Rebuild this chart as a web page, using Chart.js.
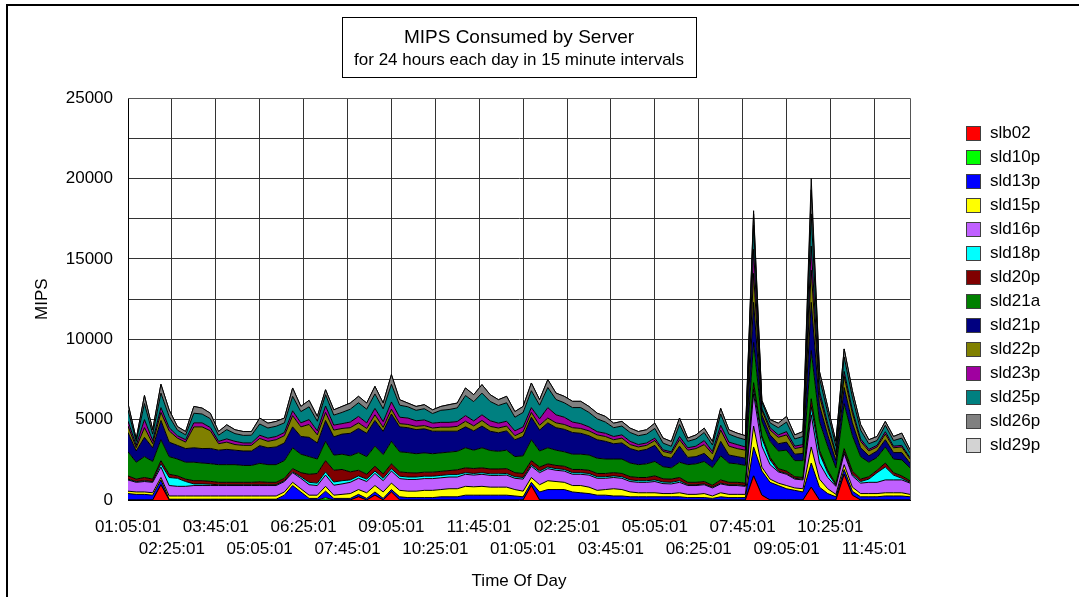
<!DOCTYPE html>
<html>
<head>
<meta charset="utf-8">
<title>MIPS Consumed by Server</title>
<script src="https://cdn.jsdelivr.net/npm/chart.js@4.4.1/dist/chart.umd.min.js"></script>
<style>
  html, body { margin: 0; padding: 0; background: #fff; }
  #wrap { position: relative; width: 1079px; height: 597px; }
  #legend { position: absolute; left: 966px; top: 121px; margin: 0; padding: 0; list-style: none;
            font: 17px 'Liberation Sans', Arial, sans-serif; color: #000; }
  #legend li { height: 24px; display: flex; align-items: center; white-space: nowrap; }
  #legend .box { width: 15px; height: 15px; box-sizing: border-box; border: 1px solid #404040; margin-right: 9px; }
</style>
</head>
<body>
<div id="wrap">
  <canvas id="chart" width="1079" height="597"></canvas>
  <ul id="legend"></ul>
</div>
<script>
// ---------- data ----------
// 96 samples, every 15 minutes, starting at 01:05:01
const INTERVAL = 15;
const minutes = Array.from({ length: 96 }, (_, i) => i * INTERVAL);

const TICK_STEP = 80;
const tickLabels = ['01:05:01', '02:25:01', '03:45:01', '05:05:01', '06:25:01', '07:45:01',
  '09:05:01', '10:25:01', '11:45:01', '01:05:01', '02:25:01', '03:45:01',
  '05:05:01', '06:25:01', '07:45:01', '09:05:01', '10:25:01', '11:45:01'];

const seriesNames = ['slb02', 'sld10p', 'sld13p', 'sld15p', 'sld16p', 'sld18p', 'sld20p',
  'sld21a', 'sld21p', 'sld22p', 'sld23p', 'sld25p', 'sld26p', 'sld29p'];
const seriesColors = ['#ff0000', '#00ff00', '#0000ff', '#ffff00', '#c060ff', '#00ffff', '#800000',
  '#008000', '#000080', '#808000', '#a000a0', '#008080', '#808080', '#d3d3d3'];

const slb02 = [
  0, 0, 0, 0, 950, 0, 0, 0, 0, 0,
  0, 0, 0, 0, 0, 0, 0, 0, 0, 0,
  0, 0, 0, 0, 0, 0, 0, 0, 200, 0,
  300, 0, 500, 0, 0, 0, 0, 0, 0, 0,
  0, 0, 0, 0, 0, 0, 0, 0, 0, 900,
  0, 0, 0, 0, 0, 0, 0, 0, 0, 0,
  0, 0, 0, 0, 0, 0, 0, 0, 0, 0,
  0, 0, 0, 0, 0, 0, 1500, 300, 0, 0,
  0, 0, 0, 800, 0, 0, 0, 1600, 300, 0,
  0, 0, 0, 0, 0, 0];
const sld10p = [
  0, 0, 0, 0, 0, 0, 0, 0, 0, 0,
  0, 0, 0, 0, 0, 0, 0, 0, 0, 0,
  0, 0, 0, 0, 150, 0, 0, 0, 0, 0,
  0, 0, 0, 0, 0, 0, 0, 0, 0, 0,
  0, 0, 0, 0, 0, 0, 0, 0, 0, 0,
  0, 0, 0, 0, 0, 0, 0, 0, 0, 0,
  0, 0, 0, 0, 0, 0, 0, 0, 0, 0,
  0, 0, 0, 0, 0, 0, 0, 0, 0, 0,
  0, 0, 0, 0, 0, 0, 0, 0, 0, 0,
  0, 0, 0, 0, 0, 0];
const sld13p = [
  400, 350, 350, 300, 300, 50, 50, 50, 50, 50,
  50, 50, 50, 50, 50, 50, 50, 50, 50, 300,
  900, 500, 100, 100, 400, 100, 100, 100, 150, 100,
  200, 100, 150, 200, 150, 150, 150, 150, 200, 200,
  200, 300, 300, 300, 300, 300, 300, 250, 200, 200,
  500, 650, 650, 650, 500, 450, 400, 300, 300, 250,
  250, 200, 200, 200, 200, 200, 200, 200, 150, 150,
  150, 100, 200, 150, 150, 150, 1800, 1500, 1100, 900,
  700, 600, 500, 1500, 800, 400, 200, 300, 250, 200,
  200, 200, 250, 250, 250, 200];
const sld15p = [
  150, 150, 150, 150, 150, 200, 200, 200, 200, 200,
  200, 200, 200, 200, 200, 200, 200, 200, 200, 200,
  200, 200, 200, 200, 300, 200, 250, 300, 300, 350,
  400, 400, 400, 400, 400, 400, 450, 450, 450, 500,
  500, 550, 520, 550, 500, 500, 500, 400, 350, 300,
  450, 550, 500, 450, 400, 450, 400, 300, 350, 450,
  400, 300, 250, 250, 250, 200, 200, 250, 200, 200,
  250, 150, 250, 200, 200, 200, 1300, 250, 200, 150,
  200, 150, 200, 1000, 500, 300, 150, 300, 250, 200,
  200, 200, 200, 200, 200, 150];
const sld16p = [
  700, 600, 650, 650, 650, 650, 600, 600, 650, 650,
  650, 650, 650, 650, 650, 650, 650, 650, 650, 650,
  600, 650, 650, 600, 700, 620, 650, 700, 700, 700,
  750, 700, 750, 730, 730, 730, 730, 730, 730, 730,
  730, 750, 730, 750, 730, 730, 750, 700, 750, 700,
  750, 750, 700, 700, 700, 700, 750, 750, 700, 700,
  700, 650, 650, 650, 700, 620, 600, 650, 550, 550,
  550, 500, 550, 550, 550, 500, 2000, 1300, 900, 700,
  700, 550, 550, 2000, 1000, 700, 500, 700, 700, 650,
  700, 700, 800, 800, 800, 700];
const sld18p = [
  50, 50, 50, 50, 200, 500, 500, 300, 100, 100,
  80, 50, 50, 50, 50, 50, 50, 50, 50, 50,
  50, 100, 150, 150, 200, 200, 200, 150, 150, 150,
  150, 150, 150, 150, 150, 150, 150, 150, 150, 150,
  150, 100, 100, 100, 100, 100, 100, 100, 100, 100,
  100, 100, 100, 100, 100, 100, 100, 100, 100, 100,
  100, 100, 100, 100, 100, 100, 100, 100, 50, 50,
  50, 50, 50, 50, 50, 50, 300, 500, 300, 50,
  50, 50, 50, 500, 600, 300, 50, 100, 100, 100,
  200, 600, 800, 300, 100, 50];
const sld20p = [
  200, 150, 200, 150, 200, 200, 150, 150, 200, 200,
  180, 150, 150, 150, 150, 150, 180, 150, 150, 150,
  200, 250, 500, 600, 700, 730, 700, 500, 350, 300,
  300, 270, 300, 270, 270, 250, 250, 250, 250, 250,
  300, 300, 310, 300, 300, 300, 300, 250, 250, 250,
  250, 200, 200, 200, 200, 200, 200, 200, 200, 200,
  200, 200, 200, 200, 250, 200, 200, 200, 150, 150,
  150, 120, 200, 150, 150, 150, 400, 150, 150, 150,
  150, 100, 100, 500, 200, 150, 100, 200, 200, 150,
  150, 150, 250, 150, 150, 100];
const sld21a = [
  1500, 1050, 1300, 1100, 1300, 1100, 1050, 1050, 1150, 1100,
  1100, 1100, 1100, 1100, 1050, 1050, 1150, 1100, 1100, 1100,
  1300, 1150, 1100, 900, 1200, 940, 950, 1000, 1100, 1100,
  1250, 1200, 1400, 1250, 1250, 1200, 1200, 1150, 1150, 1150,
  1150, 1250, 1140, 1250, 1150, 1100, 1150, 1000, 1100, 1300,
  1000, 1000, 950, 900, 950, 950, 950, 950, 900, 850,
  900, 850, 800, 850, 900, 750, 700, 950, 1100, 1150,
  1250, 1100, 1500, 1200, 1150, 1100, 2500, 900, 1000, 1100,
  1300, 1000, 1050, 3000, 1800, 1500, 1000, 2800, 2200, 1400,
  900, 800, 1000, 850, 1000, 800];
const sld21p = [
  1200, 700, 1200, 850, 1200, 900, 850, 850, 900, 900,
  950, 900, 950, 900, 900, 900, 1100, 1050, 1100, 1100,
  1300, 1100, 1200, 1000, 1300, 1140, 1250, 1400, 1500, 1450,
  1600, 1450, 1700, 1550, 1550, 1500, 1500, 1400, 1350, 1300,
  1250, 1300, 1200, 1350, 1200, 1150, 1200, 1050, 1200, 1400,
  1300, 1550, 1400, 1400, 1350, 1300, 1200, 1150, 1100, 950,
  1000, 900, 850, 900, 1000, 650, 600, 1000, 450, 450,
  500, 400, 900, 500, 450, 450, 2500, 400, 400, 450,
  500, 400, 450, 3000, 1000, 700, 450, 1000, 800, 550,
  400, 400, 450, 400, 450, 300];
const sld22p = [
  400, 200, 600, 250, 500, 700, 450, 400, 1300, 1350,
  1100, 400, 450, 350, 350, 350, 450, 400, 450, 450,
  700, 600, 800, 500, 500, 420, 350, 350, 350, 300,
  350, 250, 300, 200, 200, 200, 200, 200, 250, 250,
  300, 350, 310, 350, 300, 300, 300, 250, 300, 300,
  300, 300, 300, 300, 300, 300, 300, 300, 300, 250,
  300, 250, 250, 250, 300, 300, 300, 400, 450, 500,
  550, 450, 700, 550, 500, 500, 1800, 300, 300, 400,
  450, 350, 400, 2000, 600, 500, 350, 700, 600, 400,
  300, 250, 350, 300, 350, 250];
const sld23p = [
  300, 150, 500, 200, 300, 200, 150, 150, 250, 250,
  200, 150, 200, 200, 150, 150, 200, 200, 200, 200,
  300, 250, 300, 250, 400, 310, 300, 350, 400, 350,
  400, 350, 450, 400, 400, 350, 350, 300, 300, 300,
  300, 350, 310, 350, 350, 300, 300, 300, 300, 300,
  400, 650, 500, 450, 350, 300, 250, 200, 200, 200,
  200, 200, 150, 150, 150, 100, 100, 200, 150, 150,
  250, 150, 300, 250, 250, 200, 1500, 100, 150, 150,
  200, 150, 150, 1500, 300, 200, 100, 300, 200, 150,
  100, 100, 150, 100, 100, 80];
const sld25p = [
  700, 250, 1000, 400, 900, 700, 350, 300, 600, 550,
  550, 380, 580, 480, 470, 480, 700, 630, 640, 600,
  900, 700, 800, 600, 700, 620, 700, 800, 850, 850,
  900, 800, 1100, 750, 700, 650, 700, 600, 750, 800,
  850, 1250, 1200, 1350, 1200, 1100, 1150, 850, 900, 1050,
  850, 1250, 950, 900, 900, 1000, 900, 800, 700, 550,
  550, 550, 550, 550, 600, 420, 340, 750, 400, 450,
  500, 400, 700, 500, 450, 450, 1500, 400, 300, 450,
  600, 450, 500, 2000, 800, 700, 450, 900, 800, 550,
  350, 300, 400, 350, 450, 300];
const sld26p = [
  400, 150, 500, 270, 550, 400, 220, 210, 420, 370,
  340, 230, 300, 240, 240, 230, 370, 300, 300, 300,
  520, 320, 400, 300, 310, 330, 370, 380, 400, 380,
  470, 360, 600, 340, 230, 240, 250, 230, 240, 300,
  300, 470, 430, 530, 420, 360, 400, 350, 370, 480,
  340, 490, 400, 400, 390, 390, 370, 350, 350, 280,
  290, 270, 260, 270, 330, 310, 300, 400, 200, 250,
  270, 220, 350, 270, 260, 250, 700, 100, 200, 280,
  350, 250, 310, 1500, 400, 350, 290, 500, 400, 350,
  250, 250, 240, 250, 310, 190];
const sld29p = [
  0, 0, 0, 0, 0, 0, 0, 0, 0, 0,
  0, 0, 0, 0, 0, 0, 0, 0, 0, 0,
  0, 0, 0, 0, 0, 0, 0, 0, 0, 0,
  0, 0, 0, 0, 0, 0, 0, 0, 0, 0,
  0, 0, 0, 0, 0, 0, 0, 0, 0, 0,
  0, 0, 0, 0, 0, 0, 0, 0, 0, 0,
  0, 0, 0, 0, 0, 0, 0, 0, 0, 0,
  0, 0, 0, 0, 0, 0, 200, 0, 0, 0,
  0, 0, 0, 700, 0, 0, 0, 0, 0, 0,
  0, 0, 0, 0, 0, 0];

const seriesValues = [slb02, sld10p, sld13p, sld15p, sld16p, sld18p, sld20p,
  sld21a, sld21p, sld22p, sld23p, sld25p, sld26p, sld29p];

// ---------- chart ----------
const FONT_FAMILY = "'Liberation Sans', Arial, sans-serif";
const axisFont = { family: FONT_FAMILY, size: 17, lineHeight: 1.2 };
const tickFont = { family: FONT_FAMILY, size: 17, lineHeight: 1.3 };

// outer frame, right/top plot edges and the box round the titles
const chartFrame = {
  id: 'chartFrame',
  afterDraw(chart) {
    const { ctx, chartArea: a } = chart;
    ctx.save();
    ctx.strokeStyle = '#000';
    ctx.lineWidth = 2;
    ctx.beginPath();
    ctx.moveTo(7, chart.height);
    ctx.lineTo(7, 5);
    ctx.lineTo(chart.width, 5);
    ctx.stroke();

    ctx.lineWidth = 1;
    ctx.strokeStyle = '#555';
    ctx.beginPath();
    ctx.moveTo(a.left, Math.round(a.top) + 0.5);
    ctx.lineTo(Math.round(a.right) + 0.5, Math.round(a.top) + 0.5);
    ctx.lineTo(Math.round(a.right) + 0.5, a.bottom);
    ctx.stroke();

    const t = chart.titleBlock;
    const cx = (t.left + t.right) / 2;
    ctx.strokeStyle = '#000';
    ctx.strokeRect(Math.round(cx - 177) + 0.5, 17.5, 354, 60);
    ctx.restore();
  }
};

const chart = new Chart(document.getElementById('chart'), {
  type: 'line',
  data: {
    datasets: seriesNames.map((name, k) => ({
      label: name,
      data: minutes.map((m, i) => ({ x: m, y: seriesValues[k][i] })),
      backgroundColor: seriesColors[k],
      borderColor: '#000',
      borderWidth: 1,
      pointRadius: 0,
      tension: 0,
      fill: k === 0 ? 'origin' : '-1'
    }))
  },
  options: {
    responsive: false,
    animation: false,
    devicePixelRatio: 1,
    events: [],
    layout: { padding: { left: 10, right: 169, top: 0, bottom: 0 } },
    plugins: {
      legend: { display: false },
      tooltip: { enabled: false },
      title: {
        display: true, fullSize: false, text: 'MIPS Consumed by Server', color: '#000',
        font: { family: FONT_FAMILY, size: 19, weight: 'normal', lineHeight: 1.2 },
        padding: { top: 26, bottom: 1 }
      },
      subtitle: {
        display: true, fullSize: false, text: 'for 24 hours each day in 15 minute intervals', color: '#000',
        font: { family: FONT_FAMILY, size: 17, weight: 'normal', lineHeight: 1.2 },
        padding: { top: 0, bottom: 28 }
      }
    },
    scales: {
      x: {
        type: 'linear',
        min: 0,
        max: minutes[minutes.length - 1],
        afterBuildTicks: s => { s.ticks = tickLabels.map((_, i) => ({ value: i * TICK_STEP })); },
        afterFit: s => { s.height = 97; },
        ticks: {
          autoSkip: false, maxRotation: 0, minRotation: 0, padding: 16,
          color: '#000', font: tickFont,
          callback: (v, i) => (i % 2 === 0 ? tickLabels[i] : ['', tickLabels[i]])
        },
        grid: { color: '#333', drawTicks: false },
        border: { color: '#000' },
        title: { display: true, text: 'Time Of Day', color: '#000', font: axisFont, padding: { top: 0, bottom: 5 } }
      },
      y: {
        stacked: true,
        min: 0,
        max: 25000,
        afterFit: s => { s.width = 118; },
        ticks: {
          stepSize: 2500, padding: 15, color: '#000', font: tickFont,
          callback: v => (v % 5000 === 0 ? String(v) : '')
        },
        grid: { color: '#333', drawTicks: false },
        border: { color: '#000' },
        title: { display: true, text: 'MIPS', color: '#000', font: axisFont, padding: { top: 22, bottom: 0 } }
      }
    }
  },
  plugins: [chartFrame]
});

// html legend
const legendEl = document.getElementById('legend');
chart.data.datasets.forEach(ds => {
  const li = document.createElement('li');
  const box = document.createElement('span');
  box.className = 'box';
  box.style.background = ds.backgroundColor;
  li.appendChild(box);
  li.appendChild(document.createTextNode(ds.label));
  legendEl.appendChild(li);
});
</script>
</body>
</html>
